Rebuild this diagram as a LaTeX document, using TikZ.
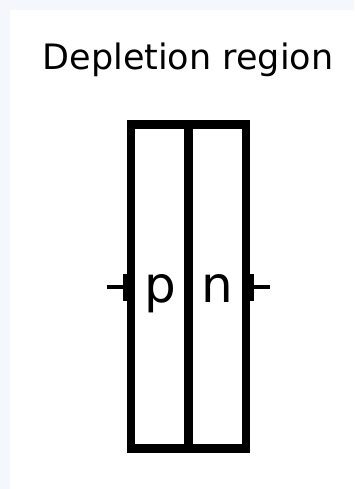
\documentclass[tikz,border=0pt]{standalone}
\usepackage{fontspec}
\setmainfont{DejaVu Sans}
\definecolor{bgblue}{HTML}{F4F7FC}
\tikzset{
  body/.style={draw=black, line width=8.5pt, line join=miter},
  lead/.style={draw=black, line width=4.5pt},
  bump/.style={fill=black, draw=none},
  lbl/.style={inner sep=0pt, anchor=base, font=\fontsize{50}{56}\selectfont},
  ttl/.style={inner sep=0pt, anchor=base, font=\fontsize{35}{40}\selectfont}
}
\begin{document}
\begin{tikzpicture}[x=1pt,y=-1pt]
\fill[bgblue] (0,0) rectangle (354,489);
\fill[white] (10,10) rectangle (354,489);
\useasboundingbox (0,0) rectangle (354,489);
\node[ttl] (title) at (188,70) {Depletion region};
% body
\coordinate (tl) at (131,124.5);
\coordinate (br) at (246,448.5);
\draw[body] (tl) rectangle (br);
\coordinate (mt) at (188.5,124.5);
\coordinate (mb) at (188.5,448.5);
\draw[body] (mt) -- (mb);
% terminals
\coordinate (lend) at (107,287);
\coordinate (lstart) at (127,287);
\coordinate (rstart) at (250,287);
\coordinate (rend) at (270,287);
\draw[lead] (lend) -- (lstart);
\draw[lead] (rstart) -- (rend);
\fill[bump] (123,274) rectangle (127,301);
\fill[bump] (250,274) rectangle (254,301);
% labels
\node[lbl] (p) at (160,302) {p};
\node[lbl] (n) at (217,302) {n};
\end{tikzpicture}
\end{document}
